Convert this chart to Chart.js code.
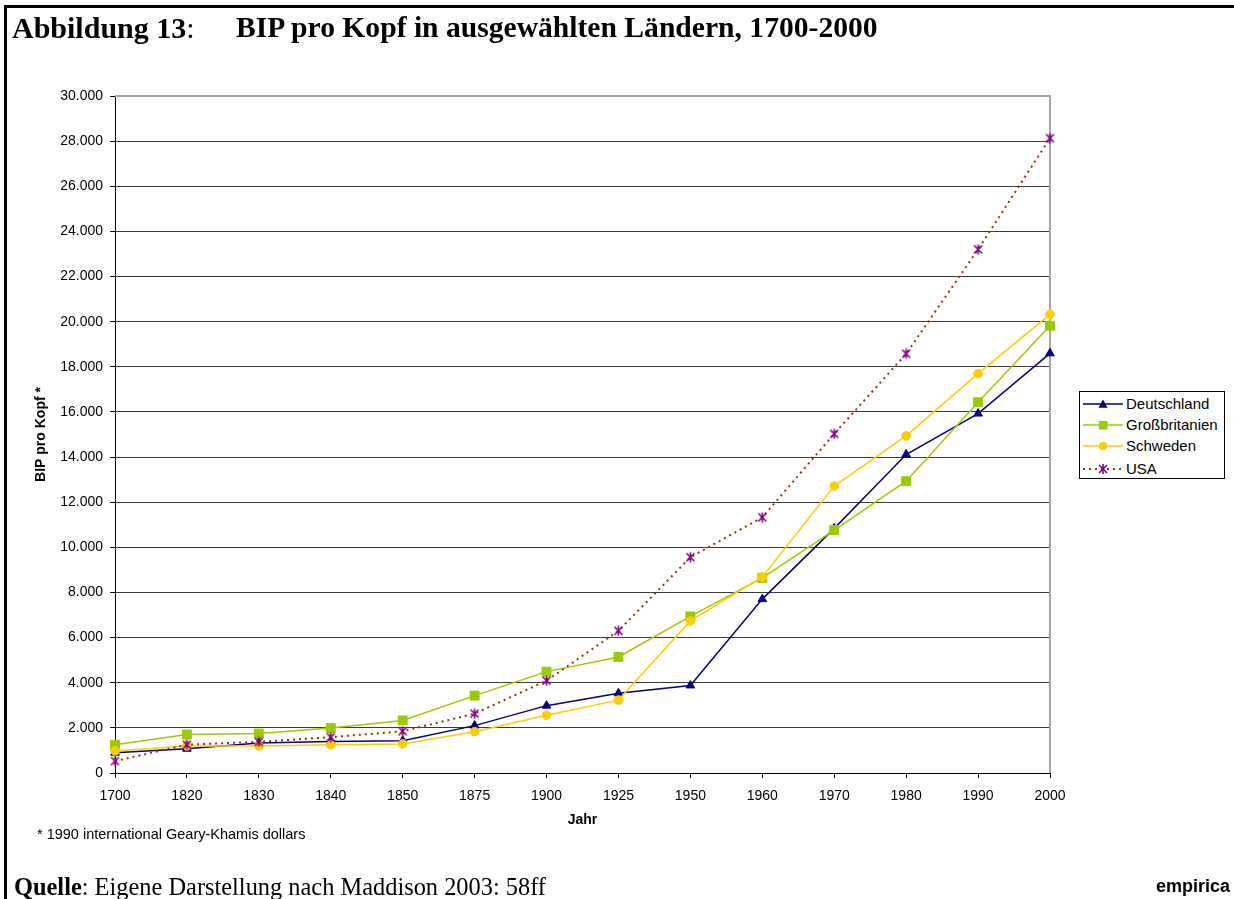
<!DOCTYPE html>
<html>
<head>
<meta charset="utf-8">
<script src="https://cdn.jsdelivr.net/npm/chart.js@4.4.1/dist/chart.umd.min.js"></script>
<style>
  html, body { margin:0; padding:0; background:#fff; width:1234px; height:899px; overflow:hidden; }
  #frame { position:absolute; left:4px; top:5px; width:1400px; height:1100px; border-left:3px solid #000; border-top:3px solid #000; }
  #wrap { position:absolute; left:0; top:0; width:1234px; height:899px; }
  .serif { font-family:'Liberation Serif','Times New Roman',serif; color:#000; position:absolute; white-space:nowrap; line-height:1; }
  .sans { font-family:'Liberation Sans',Arial,sans-serif; color:#000; position:absolute; white-space:nowrap; line-height:1; }
  #legend { position:absolute; left:1079px; top:391px; width:144px; height:86px; border:1px solid #000; background:#fff; }
  .lrow { position:absolute; left:1083px; height:20px; }
  .lrow svg { position:absolute; left:0; top:4px; }
  .lrow span { position:absolute; left:43px; top:2px; font-family:'Liberation Sans',Arial,sans-serif; font-size:15px; line-height:1; color:#000; white-space:nowrap; }
</style>
</head>
<body>
<div id="frame"></div>
<div id="wrap"><canvas id="c" width="1234" height="899"></canvas></div>

<div class="serif" style="left:12px; top:13px; font-size:30px;"><b>Abbildung 13</b>:</div>
<div class="serif" style="left:236px; top:13px; font-size:29.6px; font-weight:bold;">BIP pro Kopf in ausgewählten Ländern, 1700-2000</div>

<div class="sans" style="left:37px; top:827px; font-size:14.5px;">* 1990 international Geary-Khamis dollars</div>
<div class="serif" style="left:14px; top:875px; font-size:24.4px;"><b>Quelle</b>: Eigene Darstellung nach Maddison 2003: 58ff</div>
<div class="sans" style="right:4px; top:877px; font-size:18px; font-weight:bold;">empirica</div>

<div id="legend"></div>
<div id="legendItems"></div>

<script>
// ---- data ----
const years = ['1700','1820','1830','1840','1850','1875','1900','1925','1950','1960','1970','1980','1990','2000'];
const seriesNames = ['Deutschland','Großbritanien','Schweden','USA'];
const deutschland    = [ 900, 1077, 1328, 1400, 1428, 2100, 2985, 3532, 3881,  7705, 10839, 14114, 15929, 18596];
const grossbritanien = [1250, 1706, 1749, 1990, 2330, 3430, 4492, 5144, 6939,  8645, 10767, 12931, 16430, 19817];
const schweden       = [ 980, 1198, 1200, 1250, 1289, 1830, 2561, 3230, 6739,  8688, 12716, 14937, 17695, 20321];
const usa            = [ 527, 1257, 1380, 1588, 1849, 2630, 4091, 6300, 9561, 11328, 15030, 18577, 23201, 28129];
const yTicksMax = 30000;
const yTickStep = 2000;

// ---- custom asterisk marker (X with vertical bar) ----
function makeStar(color) {
  const c = document.createElement('canvas');
  c.width = 11; c.height = 11;
  const g = c.getContext('2d');
  g.strokeStyle = color; g.lineWidth = 1.6; g.lineCap = 'butt';
  g.beginPath();
  g.moveTo(1.5,1.5); g.lineTo(9.5,9.5);
  g.moveTo(9.5,1.5); g.lineTo(1.5,9.5);
  g.moveTo(5.5,0.5); g.lineTo(5.5,10.5);
  g.stroke();
  return c;
}
const starImg = makeStar('#800080');

const FONT = "'Liberation Sans', Arial, sans-serif";

const plotBorder = {
  id: 'plotBorder',
  beforeDatasetsDraw(chart) {
    const {ctx, chartArea:a} = chart;
    ctx.save();
    ctx.strokeStyle = '#a6a6a6';
    ctx.lineWidth = 2;
    ctx.beginPath();
    ctx.moveTo(a.left, a.top);
    ctx.lineTo(a.right, a.top);
    ctx.lineTo(a.right, a.bottom);
    ctx.stroke();
    ctx.restore();
  }
};

const datasets = [
  { label: seriesNames[0], data: deutschland, borderColor:'#000080', backgroundColor:'#000080',
    pointStyle:'triangle', pointRadius:5, pointBorderWidth:1, borderWidth:1.5, order:4 },
  { label: seriesNames[1], data: grossbritanien, borderColor:'#99CC00', backgroundColor:'#99CC00',
    pointStyle:'rect', pointRadius:6.3, pointBorderWidth:1, borderWidth:1.5, order:3 },
  { label: seriesNames[2], data: schweden, borderColor:'#FFCC00', backgroundColor:'#FFCC00',
    pointStyle:'circle', pointRadius:4.3, pointBorderWidth:1, borderWidth:1.5, order:2 },
  { label: seriesNames[3], data: usa, borderColor:'#993300', backgroundColor:'#800080',
    pointStyle: starImg, pointRadius:5, borderWidth:2, borderDash:[2,4], order:1 }
];
datasets.forEach(d => { d.clip = false; d.tension = 0; d.fill = false; });

new Chart(document.getElementById('c'), {
  type: 'line',
  data: { labels: years, datasets },
  options: {
    responsive: false,
    animation: false,
    devicePixelRatio: 1,
    layout: { padding: { left: 33, top: 96, right: 184, bottom: 70 } },
    plugins: { legend: { display:false }, tooltip: { enabled:false }, title: { display:false } },
    scales: {
      x: {
        type: 'category',
        offset: false,
        grid: { drawOnChartArea:false, drawTicks:true, tickLength:5, color:'#000', tickColor:'#000' },
        border: { color:'#000', width:1 },
        ticks: { font:{ family:FONT, size:14 }, color:'#000', padding:10, maxRotation:0, autoSkip:false },
        title: { display:true, text:'Jahr', font:{ family:FONT, size:14, weight:'bold' }, color:'#000', padding:{ top:0, bottom:0 } },
        afterFit(s) { s.height = 56; }
      },
      y: {
        min: 0, max: yTicksMax,
        grid: { color:'#3a3a3a', tickColor:'#000', tickLength:5, lineWidth:1 },
        border: { color:'#000', width:1 },
        ticks: { stepSize: yTickStep, font:{ family:FONT, size:14 }, color:'#000', padding:7,
                 callback: v => Number(v).toLocaleString('de-DE') },
        title: { display:true, text:'BIP pro Kopf *', font:{ family:FONT, size:14, weight:'bold' }, color:'#000', padding:0 },
        afterFit(s) { s.width = 82; }
      }
    }
  },
  plugins: [plotBorder]
});

// ---- legend (HTML, generated from series) ----
const legendRowsY = [393.5, 414.5, 436, 458.5];
const legendMarkers = [
  '<line x1="0" y1="6" x2="40" y2="6" stroke="#000080" stroke-width="1.5"/><polygon points="20,1.5 24.5,9.8 15.5,9.8" fill="#000080"/>',
  '<line x1="0" y1="6" x2="40" y2="6" stroke="#99CC00" stroke-width="1.5"/><rect x="16" y="2" width="8.5" height="8.5" fill="#99CC00"/>',
  '<line x1="0" y1="6" x2="40" y2="6" stroke="#FFCC00" stroke-width="1.5"/><circle cx="20" cy="6" r="4.2" fill="#FFCC00"/>',
  '<line x1="0" y1="6" x2="40" y2="6" stroke="#993300" stroke-width="2" stroke-dasharray="2,4"/><g stroke="#800080" stroke-width="1.6"><line x1="16" y1="2" x2="24" y2="10"/><line x1="24" y1="2" x2="16" y2="10"/><line x1="20" y1="1" x2="20" y2="11"/></g>'
];
let html = '';
seriesNames.forEach((n, i) => {
  html += '<div class="lrow" style="top:' + legendRowsY[i] + 'px"><svg width="41" height="12">' + legendMarkers[i] + '</svg><span>' + n + '</span></div>';
});
document.getElementById('legendItems').innerHTML = html;
</script>
</body>
</html>
